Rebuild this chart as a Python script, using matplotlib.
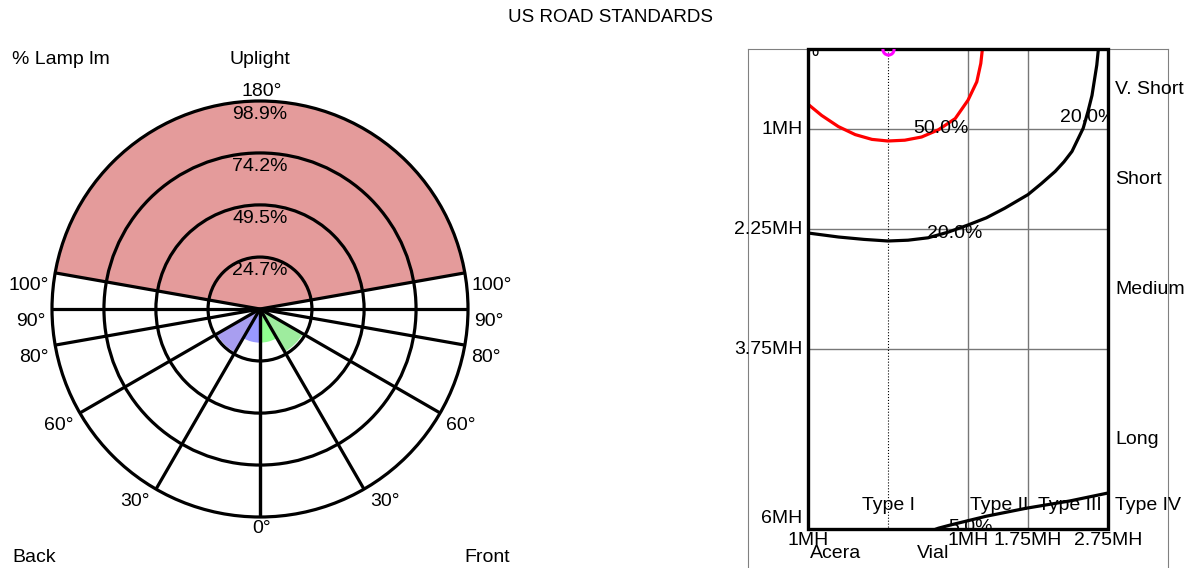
import matplotlib
matplotlib.use('Agg')
import matplotlib.pyplot as plt
from matplotlib.patches import Wedge, Circle, Rectangle
import numpy as np

plt.rcParams['font.family'] = ['Liberation Sans', 'DejaVu Sans']
FS = 14

title = "US ROAD STANDARDS"

# ---- lumen zones (left chart) ----
zone_edges = [0, 30, 60, 80, 90, 100, 180]
back_pct = [16.0, 23.8, 0.0, 0.0, 0.0, 98.9]
front_pct = [16.0, 23.5, 0.0, 0.0, 0.0, 98.9]
back_colors = ['#9999ff', '#a89ef0', '#9999ff', '#9999ff', '#e49b9b', '#e49b9b']
front_colors = ['#90ff90', '#9eec9e', '#90ff90', '#90ff90', '#e49b9b', '#e49b9b']
ring_pct = [24.7, 49.5, 74.2, 98.9]
ring_labels = ['24.7%', '49.5%', '74.2%', '98.9%']
spoke_deg = [0, 30, 60, 80, 90, 100]
spoke_labels = ['0°', '30°', '60°', '80°', '90°', '100°']

# ---- iso lines on road grid (right chart), in mounting heights ----
iso50_x = [-1.0, -0.83, -0.62, -0.41, -0.20, 0.0, 0.21, 0.42, 0.63, 0.84, 1.0, 1.11, 1.16, 1.18]
iso50_y = [0.69, 0.83, 0.97, 1.07, 1.13, 1.15, 1.14, 1.10, 1.01, 0.87, 0.64, 0.41, 0.18, 0.0]
iso20_x = [-1.0, -0.62, -0.3, 0.0, 0.25, 0.50, 0.75, 1.0, 1.23, 1.46, 1.75, 1.92, 2.09, 2.2, 2.30, 2.44, 2.5, 2.55, 2.61, 2.63]
iso20_y = [2.30, 2.35, 2.38, 2.40, 2.39, 2.36, 2.29, 2.20, 2.11, 1.99, 1.82, 1.68, 1.53, 1.41, 1.28, 0.99, 0.78, 0.58, 0.20, 0.0]
iso5_x = [0.55, 0.63, 0.78, 1.23, 1.73, 2.27, 2.75]
iso5_y = [6.02, 5.99, 5.95, 5.84, 5.74, 5.65, 5.55]
iso_labels = ['50.0%', '20.0%', '20.0%', '5.0%', '%']
iso_label_x = [0.66, 2.5, 0.83, 1.03, -0.97]
iso_label_y = [0.99, 0.85, 2.30, 5.98, 0.03]

long_edges = [1.0, 2.25, 3.75]
long_labels = ['1MH', '2.25MH', '3.75MH', '6MH']
long_label_y = [1.0, 2.25, 3.75, 5.87]
lat_edges = [1.0, 1.75]
lat_labels = ['1MH', '1MH', '1.75MH', '2.75MH']
lat_label_x = [-1.0, 1.0, 1.75, 2.75]
dist_names = ['V. Short', 'Short', 'Medium', 'Long', 'Type IV']
dist_y = [0.5, 1.625, 3.0, 4.875, 5.7]
type_names = ['Type I', 'Type II', 'Type III']
type_x = [0.0, 1.39, 2.27]

W, H = 1196, 568
fig = plt.figure(figsize=(W / 100, H / 100), dpi=100)


def fx(x):
    return x / W


def fy(y):
    return 1 - y / H


fig.text(fx(610), fy(17), title, ha='center', va='center', fontsize=13.5)

# ------------------ left: polar zones ------------------
R = ring_pct[-1]
k = R / 208.0  # percent per pixel
cx, cy = 260, 309
axl = fig.add_axes([0, 0, fx(530), (H - 30) / H])
axl.set_xlim(-cx * k, (530 - cx) * k)
axl.set_ylim((cy - H) * k, (cy - 30) * k)
axl.axis('off')

for i in range(len(zone_edges) - 1):
    a0, a1 = zone_edges[i], zone_edges[i + 1]
    if back_pct[i] > 0:
        axl.add_patch(Wedge((0, 0), back_pct[i], -90 - a1, -90 - a0,
                            fc=back_colors[i], ec='none'))
    if front_pct[i] > 0:
        axl.add_patch(Wedge((0, 0), front_pct[i], -90 + a0, -90 + a1,
                            fc=front_colors[i], ec='none'))

for r in ring_pct:
    axl.add_patch(Circle((0, 0), r, fill=False, ec='black', lw=2.3))

for d in spoke_deg:
    t = np.radians(d)
    for side in (-1, 1):
        axl.plot([0, side * R * np.sin(t)], [0, -R * np.cos(t)], color='black',
                 lw=2.3, solid_capstyle='butt')

for r, lbl in zip(ring_pct, ring_labels):
    axl.annotate(lbl, (0, r), xytext=(0, -9.5), textcoords='offset points',
                 ha='center', va='center', fontsize=FS)

for d, lbl in zip(spoke_deg, spoke_labels):
    t = np.radians(d)
    x, y = R * np.sin(t), -R * np.cos(t)
    if d == 0:
        axl.annotate(lbl, (0, y), xytext=(1, -8), textcoords='offset points',
                     ha='center', va='center', fontsize=FS)
        continue
    axl.annotate(lbl, (-x, y), xytext=(-4.5, -9), textcoords='offset points',
                 ha='right', va='center', fontsize=FS)
    axl.annotate(lbl, (x, y), xytext=(4.5, -9), textcoords='offset points',
                 ha='left', va='center', fontsize=FS)
axl.annotate('180°', (0, R), xytext=(1, 6.5), textcoords='offset points',
             ha='center', va='center', fontsize=FS)

fig.text(fx(12), fy(60), '% Lamp lm', ha='left', va='center', fontsize=FS)
fig.text(fx(260), fy(60), 'Uplight', ha='center', va='center', fontsize=FS)
fig.text(fx(12), fy(557), 'Back', ha='left', va='center', fontsize=FS)
fig.text(fx(510), fy(557), 'Front', ha='right', va='center', fontsize=FS)

# ------------------ right: road grid ------------------
axr = fig.add_axes([fx(748), (H - 609) / H, 420 / W, 560 / H])
axr.set_xlim(-1.75, 3.5)
axr.set_ylim(7, 0)
axr.set_xticks([])
axr.set_yticks([])
for s in axr.spines.values():
    s.set_color('#808080')
    s.set_linewidth(0.8)

x_lo, x_hi, y_hi = -1.0, 2.75, 6.0
for y in long_edges:
    axr.plot([x_lo, x_hi], [y, y], color='#777777', lw=1.0)
for x in lat_edges:
    axr.plot([x, x], [0, y_hi], color='#777777', lw=1.0)
axr.plot([0, 0], [0, y_hi], color='black', lw=0.8, ls=':')

clip = Rectangle((x_lo, 0), x_hi - x_lo, y_hi, transform=axr.transData)
for xs, ys, c in [(iso50_x, iso50_y, 'red'), (iso20_x, iso20_y, 'black'),
                  (iso5_x, iso5_y, 'black')]:
    ln, = axr.plot(xs, ys, color=c, lw=2.3)
    ln.set_clip_path(clip)

for lbl, x, y in zip(iso_labels, iso_label_x, iso_label_y):
    t = axr.text(x, y, lbl, ha='center', va='center', fontsize=FS)
    t.set_clip_on(True)
    t.set_clip_path(clip)

axr.add_patch(Rectangle((x_lo, 0), x_hi - x_lo, y_hi, fill=False, ec='black',
                        lw=2.4, zorder=5, clip_on=False))
axr.plot(0, 0, 'o', mfc='none', mec='magenta', ms=8, mew=2.2, zorder=6)

for lbl, y in zip(long_labels, long_label_y):
    axr.text(-1.07, y, lbl, ha='right', va='center', fontsize=FS)
for lbl, x in zip(lat_labels, lat_label_x):
    axr.text(x, 6.14, lbl, ha='center', va='center', fontsize=FS)
for lbl, y in zip(dist_names, dist_y):
    axr.text(2.84, y, lbl, ha='left', va='center', fontsize=FS)
for lbl, x in zip(type_names, type_x):
    axr.text(x, 5.7, lbl, ha='center', va='center', fontsize=FS)
axr.text(-0.66, 6.3, 'Acera', ha='center', va='center', fontsize=FS)
axr.text(0.56, 6.3, 'Vial', ha='center', va='center', fontsize=FS)

fig.savefig('out.png', dpi=100)
